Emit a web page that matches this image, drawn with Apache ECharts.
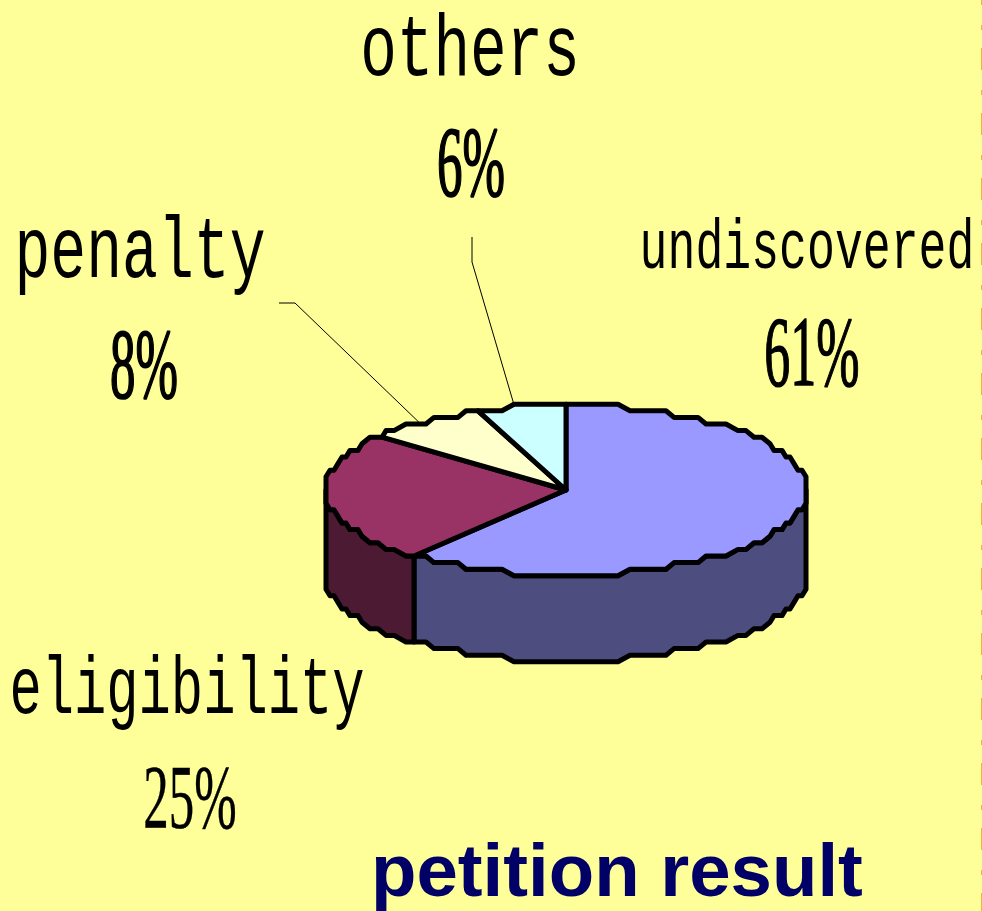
<!DOCTYPE html>
<html><head><meta charset="utf-8">
<style>html,body{margin:0;padding:0;background:#FFFF99}#c{width:982px;height:911px}</style>
<script src="https://cdn.jsdelivr.net/npm/echarts@6/dist/echarts.min.js"></script>
</head><body><div id="c"></div>
<script>
var categories = ['undiscovered', 'eligibility', 'penalty', 'others'];
var values = [61, 25, 8, 6];
var percentLabels = ['61%', '25%', '8%', '6%'];
var titleText = 'petition result';

var topColors = ['#9999FF', '#993366', '#FFFFCC', '#CCFFFF'];
var sideColors = ['#4D4D80', '#4D1A33', '#80804D', '#668080'];
var geo = { cx: 566, cy: 490, rx: 241, ry: 85, depth: 86, gridX: 4, gridY: 6.6, step: 3 };
// centre x, baseline y, horizontal and vertical scale, extra stroke of each label line
var nameLayout = [
  { x: 807, y: 270, sx: 0.465, sy: 0.71 },
  { x: 187, y: 715, sx: 0.538, sy: 0.82 },
  { x: 140, y: 279, sx: 0.598, sy: 0.88 },
  { x: 470, y: 77, sx: 0.61, sy: 0.87 }
];
var pctLayout = [
  { x: 812, y: 388, sx: 0.52, sy: 1.0, w: 1.5 },
  { x: 190, y: 830, sx: 0.51, sy: 0.9, w: 0.5 },
  { x: 144, y: 400, sx: 0.51, sy: 1.0, w: 2 },
  { x: 471, y: 198, sx: 0.51, sy: 1.0, w: 2 }
];
// leader hand-offs: [start, knee]; the far end follows the slice's mid angle
var leaders = [null, null, [[279, 303], [295, 303]], [[472, 237], [472, 262]]];
var leaderBias = -1.5;

var total = values.reduce(function (a, b) { return a + b; }, 0);
function startAngle(i) {
  var s = 0;
  for (var k = 0; k < i; k++) s += values[k];
  return s / total * 360;
}
function endAngle(i) { return startAngle(i) + values[i] / total * 360; }
function pt(deg, dy) {
  var r = deg * Math.PI / 180;
  var x = geo.rx * Math.sin(r);
  var y = -geo.ry * Math.cos(r);
  x = Math.round(x / geo.gridX) * geo.gridX;
  y = Math.round(y / geo.gridY) * geo.gridY;
  return [geo.cx + x, geo.cy + y + (dy || 0)];
}
function arc(a, b, dy) {
  var out = [pt(a, dy)];
  var k = Math.floor(a / geo.step) + 1;
  for (; k * geo.step < b; k++) out.push(pt(k * geo.step, dy));
  out.push(pt(b, dy));
  return out;
}
var stroke = { stroke: '#000', lineWidth: 5, lineJoin: 'round' };

function renderSide(params) {
  var i = params.dataIndex;
  var a = Math.max(startAngle(i), 90), b = Math.min(endAngle(i), 270);
  if (b <= a) return { type: 'group', children: [] };
  var pts = arc(a, b, 0).concat(arc(a, b, geo.depth).reverse());
  return { type: 'polygon', shape: { points: pts },
    style: Object.assign({ fill: sideColors[i] }, stroke) };
}
function renderTop(params) {
  var i = params.dataIndex;
  var pts = [[geo.cx, geo.cy]].concat(arc(startAngle(i), endAngle(i), 0));
  return { type: 'polygon', shape: { points: pts },
    style: Object.assign({ fill: topColors[i] }, stroke) };
}
function labelText(str, l, family, descent) {
  var style = { text: str, font: 'normal 100px "' + family + '"', fill: '#000',
    textAlign: 'center', textVerticalAlign: 'bottom' };
  if (l.w) { style.stroke = '#000'; style.lineWidth = l.w; }
  return { type: 'text', x: l.x, y: l.y + descent * l.sy, scaleX: l.sx, scaleY: l.sy, z2: 20, style: style };
}
function renderLabel(params) {
  var i = params.dataIndex;
  var kids = [labelText(categories[i], nameLayout[i], 'Liberation Mono', 21),
              labelText(percentLabels[i], pctLayout[i], 'Liberation Serif', 21)];
  if (leaders[i]) {
    var mid = (startAngle(i) + endAngle(i)) / 2 + leaderBias, r = mid * Math.PI / 180;
    var end = [geo.cx + geo.rx * Math.sin(r), geo.cy - geo.ry * Math.cos(r)];
    kids.push({ type: 'polyline', shape: { points: leaders[i].concat([end]) },
      style: { stroke: '#000', lineWidth: 1, fill: null } });
  }
  return { type: 'group', children: kids };
}
var seriesData = values.map(function (v, i) { return { name: categories[i], value: v }; });
var chart = echarts.init(document.getElementById('c'), null, { renderer: 'canvas' });
chart.setOption({
  animation: false,
  backgroundColor: '#FFFF99',
  title: { text: titleText, left: 371, top: 838, padding: 0,
    textStyle: { fontFamily: '"Liberation Sans"', fontWeight: 'bold', fontSize: 74.4, color: '#000066' } },
  graphic: [{ type: 'line', silent: true, shape: { x1: 981.5, y1: -17, x2: 981.5, y2: 911 },
    style: { stroke: '#F5B041', lineWidth: 1, lineDash: [22, 20, 5, 18] } }],
  series: [
    { type: 'custom', coordinateSystem: 'none', data: seriesData, renderItem: renderSide, z: 1, silent: true },
    { type: 'custom', coordinateSystem: 'none', data: seriesData, renderItem: renderTop, z: 2, silent: true },
    { type: 'custom', coordinateSystem: 'none', data: seriesData, renderItem: renderLabel, z: 3, silent: true }
  ]
});
</script></body></html>
